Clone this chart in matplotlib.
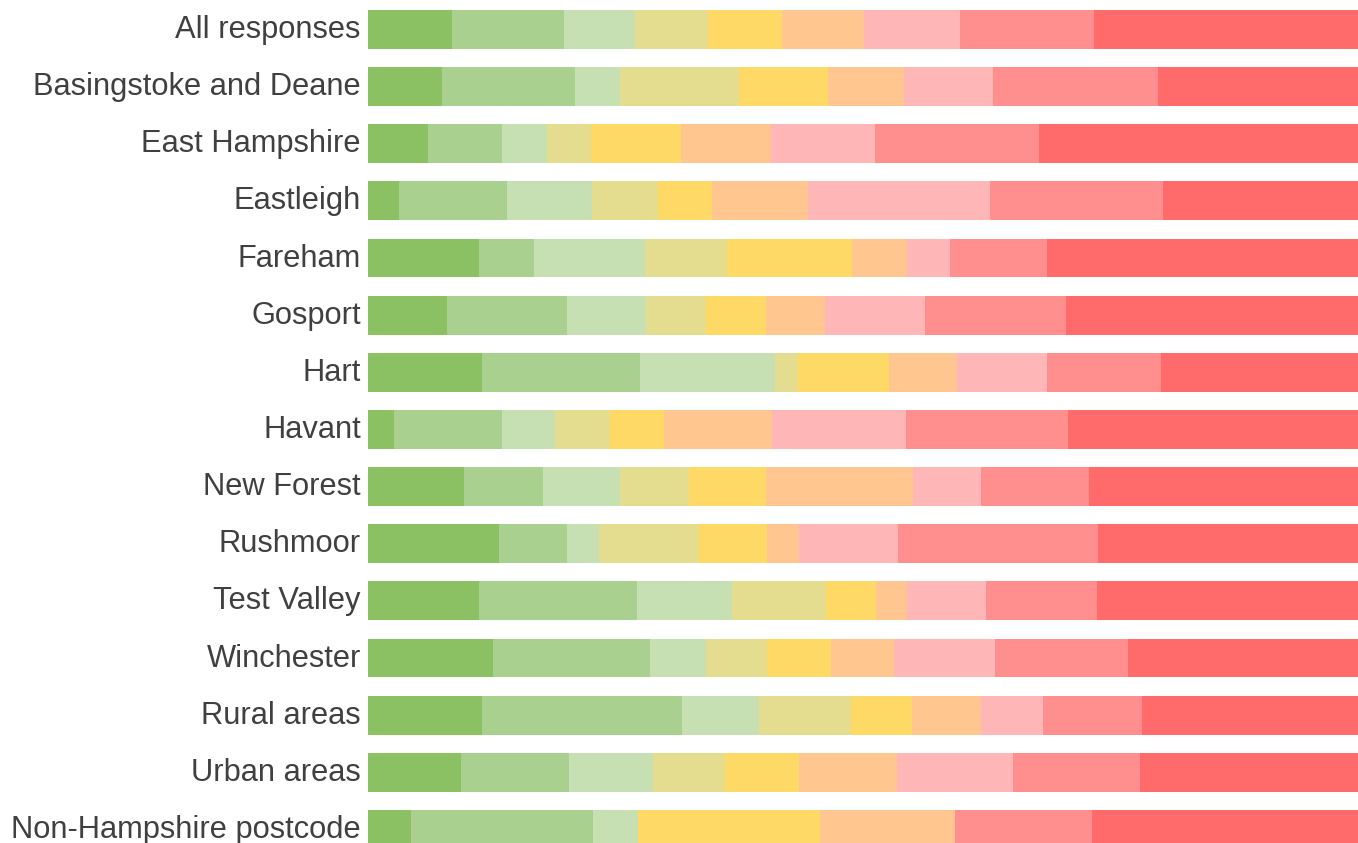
import matplotlib
matplotlib.use("Agg")
import matplotlib.pyplot as plt
import matplotlib.transforms as mtransforms
import numpy as np

categories = [
    "All responses", "Basingstoke and Deane", "East Hampshire", "Eastleigh",
    "Fareham", "Gosport", "Hart", "Havant", "New Forest", "Rushmoor",
    "Test Valley", "Winchester", "Rural areas", "Urban areas",
    "Non-Hampshire postcode",
]

# percentage shares for each of the 9 response levels (green -> red)
level1 = [8.5, 7.5, 6.1, 3.2, 11.2, 8.0, 11.5, 2.7, 9.7, 13.3, 11.2, 12.6, 11.5, 9.4, 4.4]
level2 = [11.3, 13.4, 7.5, 10.9, 5.6, 12.1, 16.0, 10.9, 8.0, 6.9, 16.0, 15.9, 20.2, 10.9, 18.4]
level3 = [7.2, 4.6, 4.5, 8.6, 11.2, 8.0, 13.6, 5.4, 7.8, 3.2, 9.6, 5.6, 7.8, 8.5, 4.5]
level4 = [7.3, 12.0, 4.5, 6.6, 8.3, 6.1, 2.4, 5.5, 6.9, 10.1, 9.5, 6.2, 9.3, 7.3, 0.0]
level5 = [7.5, 9.0, 9.1, 5.5, 12.6, 6.1, 9.1, 5.5, 7.8, 6.9, 5.0, 6.4, 6.2, 7.5, 18.4]
level6 = [8.3, 7.7, 9.1, 9.7, 5.6, 5.9, 6.9, 10.9, 14.8, 3.2, 3.2, 6.4, 6.9, 9.8, 13.6]
level7 = [9.7, 8.9, 10.5, 18.4, 4.3, 10.1, 9.1, 13.6, 6.9, 10.1, 7.9, 10.2, 6.3, 11.8, 0.0]
level8 = [13.5, 16.7, 16.6, 17.5, 9.8, 14.3, 11.5, 16.4, 10.9, 20.2, 11.2, 13.4, 10.0, 12.8, 13.8]
level9 = [26.6, 20.2, 32.2, 19.7, 31.4, 29.5, 19.9, 29.3, 27.1, 26.3, 26.4, 23.2, 21.8, 22.0, 26.9]

colors = ["#8BC063", "#A9D08E", "#C6E0B4", "#E4DD8F", "#FFD966",
          "#FFC78F", "#FFB6B6", "#FF8F8F", "#FF6B6B"]

series = np.array([level1, level2, level3, level4, level5,
                   level6, level7, level8, level9], dtype=float)
series = series / series.sum(axis=0) * 100.0

W, H = 1358, 843
fig = plt.figure(figsize=(W / 100, H / 100), dpi=100)
left = 367.7 / W
ax = fig.add_axes([left, 0.0, 1.0 - left, 1.0])

y = np.arange(len(categories))
cum = np.zeros(len(categories))
for vals, c in zip(series, colors):
    ax.barh(y, vals, left=cum, height=0.68, color=c, edgecolor="none")
    cum += vals

pitch = 57.14
top_center = 29.5
ax.set_ylim((H - top_center) / pitch, -top_center / pitch)
ax.set_xlim(0, 100)

ax.set_yticks(y)
ax.set_yticklabels(categories, fontsize=22.2, color="#404040",
                   family=["Liberation Sans", "DejaVu Sans"])
ax.tick_params(axis="y", length=0, pad=5)
offset = mtransforms.ScaledTranslation(0, 0.03, fig.dpi_scale_trans)
for lab in ax.get_yticklabels():
    lab.set_transform(lab.get_transform() + offset)
ax.set_xticks([])
for s in ax.spines.values():
    s.set_visible(False)

fig.savefig("out.png", dpi=100)
